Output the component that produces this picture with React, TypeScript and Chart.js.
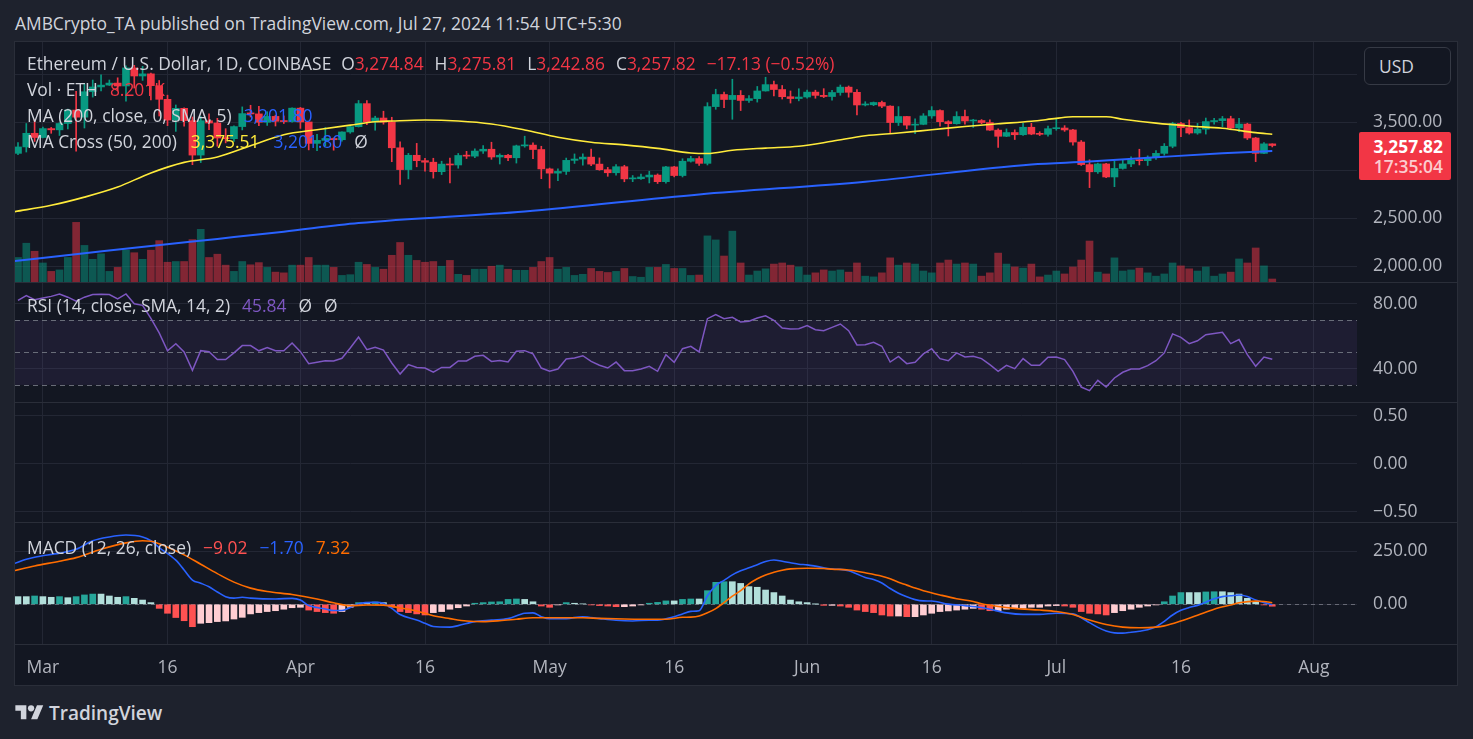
import React, { useEffect, useRef } from "react";
import { Chart, registerables } from "chart.js";

Chart.register(...registerables);

// ---------------- data (day 0 = Mar 1 2024, first candle = Feb 27) ----------------
const FIRST_DAY = -3;
const TICK_DAYS = [0, 15, 31, 46, 61, 76, 92, 107, 122, 137, 153];
const TICK_LABELS = ["Mar", "16", "Apr", "16", "May", "16", "Jun", "16", "Jul", "16", "Aug"];
const PRICE_TICKS = [2000, 2500, 3000, 3500, 4000];
const RSI_TICKS = [40, 80];
const RSI_LEVELS = [70, 50, 30];
const BLANK_TICKS = [-0.5, 0, 0.5];
const MACD_TICKS = [0, 250];

const OPEN = [
  3176, 3243, 3385,
  3341, 3434, 3421, 3487, 3627, 3553, 3818, 3868, 3887, 3908, 3878, 4066, 3982, 4004, 3881, 3739, 3523, 3645, 3517, 3158, 3516, 3492, 3336, 3329, 3455, 3590, 3587, 3500, 3561, 3510, 3507,
  3647, 3503, 3280, 3311, 3331, 3318, 3399, 3454, 3694, 3505, 3544, 3502, 3234, 3007, 3156, 3100, 3084, 2985, 3064, 3055, 3154, 3147, 3200, 3219, 3138, 3156, 3130, 3254, 3262, 3216,
  3014, 2970, 2988, 3103, 3117, 3137, 3064, 3006, 2974, 3037, 2910, 2912, 2930, 2950, 2881, 3035, 2945, 3094, 3122, 3072, 3663, 3789, 3737, 3780, 3727, 3746, 3826, 3892, 3841, 3766, 3747,
  3763, 3814, 3780, 3768, 3810, 3866, 3812, 3680, 3682, 3706, 3668, 3497, 3560, 3470, 3478, 3566, 3622, 3506, 3485, 3560, 3513, 3518, 3497, 3418, 3354, 3393, 3370, 3448, 3377, 3374,
  3433, 3440, 3420, 3294, 3059, 2984, 3066, 2930, 3019, 3066, 3103, 3100, 3135, 3176, 3250, 3487, 3444, 3388, 3428, 3507, 3517, 3537, 3441, 3481, 3336, 3176, 3274.84,
];
const HIGH = [
  3289, 3487, 3523,
  3451, 3446, 3496, 3637, 3823, 3900, 3940, 3995, 3940, 3963, 4087, 4093, 4083, 4013, 3935, 3782, 3680, 3650, 3555, 3560, 3587, 3541, 3433, 3464, 3660, 3677, 3667, 3610, 3574, 3566, 3650,
  3655, 3505, 3373, 3445, 3337, 3400, 3460, 3727, 3725, 3563, 3615, 3552, 3295, 3176, 3280, 3125, 3125, 3094, 3128, 3175, 3197, 3224, 3256, 3292, 3171, 3166, 3262, 3355, 3285, 3250,
  3023, 3015, 3127, 3170, 3171, 3220, 3129, 3030, 3058, 3052, 2945, 2960, 2990, 2962, 3041, 3041, 3120, 3145, 3143, 3704, 3844, 3815, 3948, 3830, 3777, 3873, 3969, 3929, 3883, 3826, 3849,
  3836, 3834, 3850, 3832, 3888, 3878, 3840, 3714, 3711, 3720, 3672, 3663, 3562, 3535, 3590, 3663, 3629, 3516, 3610, 3628, 3531, 3528, 3526, 3431, 3431, 3421, 3489, 3489, 3401, 3461,
  3531, 3465, 3427, 3310, 3109, 3074, 3073, 3097, 3110, 3140, 3219, 3150, 3205, 3278, 3500, 3498, 3524, 3488, 3544, 3540, 3561, 3563, 3540, 3490, 3342, 3287, 3275.81,
];
const LOW = [
  3162, 3190, 3300,
  3338, 3385, 3362, 3430, 3200, 3440, 3762, 3827, 3883, 3829, 3720, 3856, 3936, 3733, 3565, 3465, 3405, 3459, 3058, 3080, 3422, 3250, 3285, 3300, 3420, 3555, 3464, 3467, 3461, 3487, 3500,
  3436, 3212, 3203, 3253, 3209, 3302, 3385, 3450, 3475, 3417, 3480, 3089, 2852, 2910, 3036, 2990, 2918, 2955, 2868, 3021, 3122, 3130, 3175, 3114, 3065, 3101, 3075, 3240, 3120, 2912,
  2815, 2892, 2956, 3071, 3052, 3047, 3000, 2937, 2950, 2880, 2881, 2905, 2868, 2862, 2865, 2931, 2930, 3085, 3051, 3055, 3635, 3653, 3531, 3622, 3707, 3710, 3824, 3775, 3742, 3700, 3723,
  3750, 3750, 3757, 3730, 3781, 3761, 3576, 3670, 3673, 3653, 3392, 3466, 3431, 3380, 3474, 3541, 3460, 3357, 3480, 3480, 3446, 3485, 3414, 3239, 3350, 3320, 3363, 3370, 3361, 3356,
  3417, 3405, 3262, 3050, 2819, 2968, 2922, 2829, 3011, 3037, 3055, 3050, 3112, 3156, 3234, 3350, 3376, 3375, 3377, 3480, 3455, 3422, 3402, 3320, 3090, 3172, 3242.86,
];
const CLOSE = [
  3243, 3385, 3341,
  3434, 3421, 3487, 3627, 3553, 3818, 3868, 3887, 3908, 3878, 4066, 3982, 4004, 3881, 3739, 3523, 3645, 3517, 3158, 3516, 3492, 3336, 3329, 3455, 3590, 3587, 3500, 3561, 3510, 3507, 3647,
  3503, 3280, 3311, 3331, 3318, 3399, 3454, 3694, 3505, 3544, 3502, 3234, 3007, 3156, 3100, 3084, 2985, 3064, 3055, 3154, 3147, 3200, 3219, 3138, 3156, 3130, 3254, 3262, 3216, 3014,
  2970, 2988, 3103, 3117, 3137, 3064, 3006, 2974, 3037, 2910, 2912, 2930, 2950, 2881, 3035, 2945, 3094, 3122, 3072, 3663, 3789, 3737, 3780, 3727, 3746, 3826, 3892, 3841, 3766, 3747, 3763,
  3814, 3780, 3768, 3810, 3866, 3812, 3680, 3682, 3706, 3668, 3497, 3560, 3470, 3478, 3566, 3622, 3506, 3485, 3560, 3513, 3518, 3497, 3418, 3354, 3393, 3370, 3448, 3377, 3374, 3433,
  3440, 3420, 3294, 3059, 2984, 3066, 2930, 3019, 3066, 3103, 3100, 3135, 3176, 3250, 3487, 3444, 3388, 3428, 3507, 3517, 3537, 3441, 3481, 3336, 3176, 3274.95, 3257.82,
];
// volume in thousands of ETH
const VOLUME_K = [
  67, 106, 84,
  52, 29, 33, 67, 163, 100, 62, 77, 29, 40, 87, 80, 62, 87, 113, 54, 56, 56, 116, 144, 67, 76, 46, 29, 56, 47, 53, 40, 27, 25, 46,
  46, 67, 46, 46, 40, 18, 20, 54, 48, 40, 35, 73, 108, 73, 59, 54, 56, 43, 59, 21, 18, 35, 35, 43, 46, 35, 32, 32, 40, 56,
  67, 35, 40, 18, 21, 37, 29, 26, 29, 37, 15, 13, 40, 40, 48, 37, 37, 18, 19, 126, 115, 71, 139, 52, 19, 30, 36, 49, 52, 46, 41,
  19, 25, 33, 30, 33, 27, 52, 16, 14, 25, 66, 46, 52, 49, 30, 25, 52, 60, 49, 52, 49, 16, 25, 79, 49, 41, 38, 49, 14, 19,
  30, 22, 41, 60, 112, 27, 22, 66, 30, 33, 38, 25, 16, 22, 52, 44, 36, 30, 41, 16, 22, 27, 63, 52, 93, 44, 8.2,
];
// [day, value]
const MA50 = [
  [-3.4, 2569], [1, 2635], [5, 2720], [9, 2825], [13, 2972], [17, 3082], [21, 3138], [25, 3255], [29, 3370], [33, 3422],
  [37, 3470], [40, 3505], [42, 3513], [46, 3524], [50, 3513], [54, 3482], [58, 3420], [62, 3344], [66, 3292], [70, 3264],
  [74, 3228], [78, 3180], [80, 3174], [83, 3208], [87, 3231], [91, 3250], [95, 3302], [99, 3360], [103, 3388], [107, 3422],
  [111, 3456], [115, 3484], [119, 3510], [122, 3540], [124, 3557], [128, 3557], [130, 3532], [134, 3491], [138, 3461],
  [142, 3437], [146, 3392], [148, 3375.51],
];
const MA200 = [
  [-3.4, 2055], [5, 2135], [13, 2211], [21, 2285], [29, 2360], [38, 2450], [58, 2570], [79, 2748], [99, 2881],
  [119, 3060], [126, 3090], [134, 3135], [142, 3177], [148, 3201.8],
];
const RSI = [
  82, 85, 82.5,
  83.5, 84.5, 86, 84, 81.5, 84, 85.6, 85.8, 85.6, 83,
  86, 80, 79, 71, 62, 51, 55.4, 50.3, 39, 51.1,
  50.5, 45.6, 45.6, 49.7, 54.2, 54.2, 51, 53, 51, 51,
  55.8, 50.5, 43.1, 44, 44.9, 44.7, 46.4, 52.7, 59.5, 51.7,
  53.2, 51.5, 43.5, 36.7, 42.5, 40.8, 40.4, 37.8, 40.8, 40.8,
  44.8, 44.8, 47.6, 48.2, 44.5, 45.1, 44.1, 50.7, 51.1, 49.1,
  40.4, 38.4, 39.8, 46, 46.6, 48, 44.5, 42.1, 40.4, 44.1,
  38.8, 38.8, 39.8, 41.5, 38.4, 48.6, 43.9, 52.3, 53.8, 50.3,
  70.8, 73.3, 70.8, 71.6, 68.7, 69.2, 71.2, 72.6, 69.8, 65,
  64.4, 64.6, 66.5, 64, 63.4, 65.4, 67.5, 63.4, 54.6, 54.8,
  56.2, 53.8, 44.1, 47.6, 43.1, 43.9, 49.1, 52.3, 46.2, 44.9,
  49.7, 47.2, 47.6, 46.2, 42.5, 38.4, 42.1, 40, 46.2, 42.1,
  42.1, 47, 47.2, 45.6, 38.4, 28.7, 26.5, 32.8, 28.7, 34.3,
  37.8, 39.8, 39.8, 41.9, 44.9, 49.7, 61.4, 59.3, 55.4, 57.2,
  60.9, 61.6, 62.4, 55.4, 57.9, 48.6, 41.5, 47.2, 45.84,
];
const MACD_HIST = [
  36, 36, 39,
  36, 33, 36, 31, 36, 44, 48, 48, 39, 33,
  36, 28, 20, 8, -19, -42, -62, -77, -105, -89,
  -86, -81, -78, -69, -61, -45, -39, -34, -30, -23,
  -16, -14, -27, -34, -39, -42, -34, -14, 8, 8,
  11, 8, -14, -34, -39, -45, -50, -39, -34, -23,
  -16, -8, 5, 8, 11, 12, 23, 25, 23, 12,
  -8, -14, -3, 8, 5, 2, -3, -6, -8, -11,
  -11, -8, -3, 5, 9, 16, 16, 23, 25, 25,
  64, 103, 106, 106, 98, 83, 80, 67, 55, 39,
  20, 12, 8, 1, -5, -5, -8, -14, -27, -34,
  -39, -50, -55, -55, -58, -58, -50, -42, -34, -31,
  -27, -23, -19, -23, -30, -30, -23, -20, -19, -14,
  -14, -8, -6, -8, -14, -34, -42, -45, -50, -39,
  -30, -23, -14, -8, -3, 12, 39, 55, 55, 55,
  58, 59, 59, 55, 48, 28, 12, -3, -9.02,
];
const MACD_LINE = [
  [-3.4, 192], [-2, 211], [-1, 221], [2, 240], [4, 258], [6, 298], [8, 316], [10, 325], [12, 316], [13, 298],
  [14, 266], [16, 207], [17, 161], [18, 114], [19, 99], [20, 82], [21, 58], [22, 36], [23, 29], [24, 33],
  [25, 29], [28, 25], [30, 28], [31, 20], [32, -6], [33, -15], [34, -22], [35, -29], [36, -29], [37, -15],
  [38, 3], [40, 9], [41, 4.5], [42, -19], [43, -48], [45, -74], [46, -89], [47, -104], [49, -107], [50, -100],
  [52, -81], [54, -74], [56, -67], [58, -42], [59, -40], [60, -58], [61, -68], [63, -67], [65, -58], [67, -67],
  [69, -75], [71, -78], [73, -74], [74, -74], [76, -58], [77, -45], [78, -33], [79, -30], [80, 40], [81, 88],
  [82, 112], [83, 138], [84, 157], [85, 171], [86, 186], [87, 201], [88, 208], [89, 202], [90, 195], [91, 188],
  [92, 185], [93, 179], [95, 165], [96, 164], [97, 157], [98, 142], [99, 126], [100, 116], [101, 100], [102, 74],
  [103, 52], [104, 35], [105, 22], [106, 16], [107, 15.5], [109, 1], [111, -6], [113, -15], [114, -23], [116, -40],
  [118, -47], [120, -47], [122, -42], [124, -45], [125, -63], [126, -86], [127, -108], [128, -125], [129, -134], [130, -135],
  [131, -131], [132, -126], [133, -119], [134, -105], [135, -80], [136, -50], [137, -28], [138, -15], [139, -5], [140, 10],
  [141, 26], [142, 36], [143, 40], [144, 44], [145, 37], [146, 20], [147, 8], [148, -1.7],
];
const MACD_SIGNAL = [
  [-3.4, 158], [-1, 180], [2, 202], [4, 219], [7, 258], [10, 288], [12, 298], [13, 296], [15, 268], [17, 232],
  [19, 188], [21, 144], [23, 104], [25, 76], [27, 60], [30, 46], [33, 25], [35, 7], [37, -7], [39, -3],
  [41, -4], [43, -17], [45, -31], [47, -54], [49, -67], [51, -78], [53, -81], [55, -77], [57, -70], [59, -63],
  [62, -63], [65, -63], [67, -66], [70, -69], [72, -70], [75, -70], [77, -61], [78, -60], [79, -55], [80, -40],
  [81, -20], [82, 8], [83, 38], [84, 64], [85, 96], [86, 120], [87, 138], [88, 150], [89, 160], [90, 166],
  [92, 169], [94, 168], [95, 165], [97, 161], [99, 148], [101, 132], [102, 120], [103, 103], [104, 90], [105, 76],
  [106, 64], [108, 44], [110, 26], [112, 13], [113, 3], [115, -10], [117, -19], [120, -27], [122, -34], [124, -48],
  [126, -74], [128, -95], [130, -107], [132, -110], [134, -107], [135, -101], [137, -78], [139, -51], [141, -23], [143, -3],
  [144, 7], [146, 15], [147, 13], [148, 7.32],
];

// ---------------- style ----------------
const FONT = "'Open Sans', 'Noto Sans', Roboto, sans-serif";
const TEXT_SIZE = 17.4;
const AXIS_SIZE = 17.5;
const BG = "#131722";
const OUTER = "#1e222d";
const BORDER = "#2a2e39";
const GRID = "#232734";
const AXIS_TEXT = "#B2B5BE";
const TEXT = "#D1D4DC";
const UP = "#089981";
const DOWN = "#F23645";
const X_MIN = -3.36;
const X_MAX = 158.2;
const AXIS_W = 100;
const PANE_LEFT = 15;
const PANE_W = 1442;

const fmt2 = (v: number) =>
  v.toLocaleString("en-US", { minimumFractionDigits: 2, maximumFractionDigits: 2 }).replace("-", "\u2212");

function xScale(showLabels: boolean): any {
  return {
    type: "linear",
    min: X_MIN,
    max: X_MAX,
    offset: false,
    grid: { color: GRID, drawTicks: false, offset: false },
    border: { display: false },
    ticks: {
      display: showLabels,
      color: AXIS_TEXT,
      font: { family: FONT, size: AXIS_SIZE },
      padding: 14,
      maxRotation: 0,
      autoSkip: false,
      callback: (v: number) => TICK_LABELS[TICK_DAYS.indexOf(v)] ?? "",
    },
    afterBuildTicks: (s: any) => {
      s.ticks = TICK_DAYS.map((v) => ({ value: v }));
    },
    afterFit: (s: any) => {
      s.height = showLabels ? 41 : 0;
      s.paddingLeft = 0;
      s.paddingRight = 0;
    },
  };
}

function yScale(min: number, max: number, ticks: number[]): any {
  return {
    position: "right",
    min,
    max,
    grid: { color: GRID, drawTicks: false },
    border: { display: false },
    ticks: {
      color: AXIS_TEXT,
      font: { family: FONT, size: AXIS_SIZE },
      padding: 16,
      autoSkip: false,
      callback: (v: number) => fmt2(v),
    },
    afterBuildTicks: (s: any) => {
      s.ticks = ticks.map((v) => ({ value: v }));
    },
    afterFit: (s: any) => {
      s.width = AXIS_W;
      s.paddingTop = 0;
      s.paddingBottom = 0;
    },
  };
}

const common: any = {
  responsive: false,
  maintainAspectRatio: false,
  animation: false,
  events: [],
  layout: { padding: 0 },
  plugins: { legend: { display: false }, tooltip: { enabled: false } },
};

const rsiBandPlugin = {
  id: "rsiBand",
  beforeDatasetsDraw(chart: any) {
    const { ctx, chartArea: a, scales } = chart;
    const y = scales.y;
    const top = y.getPixelForValue(RSI_LEVELS[0]);
    const bot = y.getPixelForValue(RSI_LEVELS[2]);
    ctx.save();
    ctx.fillStyle = "rgba(126,87,194,0.1)";
    ctx.fillRect(a.left, top, a.right - a.left, bot - top);
    ctx.strokeStyle = "rgba(120,123,134,0.85)";
    ctx.lineWidth = 1;
    ctx.setLineDash([5, 4]);
    for (const lv of RSI_LEVELS) {
      const p = Math.round(y.getPixelForValue(lv)) + 0.5;
      ctx.beginPath();
      ctx.moveTo(a.left, p);
      ctx.lineTo(a.right, p);
      ctx.stroke();
    }
    ctx.restore();
  },
};

const zeroLinePlugin = {
  id: "zeroLine",
  beforeDatasetsDraw(chart: any) {
    const { ctx, chartArea: a, scales } = chart;
    const p = Math.round(scales.y.getPixelForValue(0)) + 0.5;
    ctx.save();
    ctx.strokeStyle = "rgba(120,123,134,0.8)";
    ctx.lineWidth = 1;
    ctx.setLineDash([4, 4]);
    ctx.beginPath();
    ctx.moveTo(a.left, p);
    ctx.lineTo(a.right, p);
    ctx.stroke();
    ctx.restore();
  },
};

export default function App() {
  const priceRef = useRef<HTMLCanvasElement>(null);
  const rsiRef = useRef<HTMLCanvasElement>(null);
  const blankRef = useRef<HTMLCanvasElement>(null);
  const macdRef = useRef<HTMLCanvasElement>(null);

  useEffect(() => {
    const days = CLOSE.map((_, i) => FIRST_DAY + i);
    const candleColor = CLOSE.map((c, i) => (c >= OPEN[i] ? UP : DOWN));
    const volColor = CLOSE.map((c, i) => (c >= OPEN[i] ? "rgba(8,153,129,0.5)" : "rgba(242,54,69,0.5)"));
    const histColor = MACD_HIST.map((v, i) => {
      const prev = i > 0 ? MACD_HIST[i - 1] : v;
      return v >= 0 ? (v > prev ? "#26A69A" : "#B2DFDB") : v < prev ? "#FF5252" : "#FFCDD2";
    });
    const pts = (arr: number[][]) => arr.map(([x, y]) => ({ x, y }));

    const charts: Chart[] = [];

    charts.push(
      new Chart(priceRef.current as HTMLCanvasElement, {
        type: "bar",
        data: {
          datasets: [
            {
              type: "line",
              data: pts(MA50),
              borderColor: "#FFEB3B",
              borderWidth: 1.6,
              pointRadius: 0,
              cubicInterpolationMode: "monotone",
              yAxisID: "y",
              order: 1,
            } as any,
            {
              type: "line",
              data: pts(MA200),
              borderColor: "#2962FF",
              borderWidth: 2,
              pointRadius: 0,
              cubicInterpolationMode: "monotone",
              yAxisID: "y",
              order: 2,
            } as any,
            {
              type: "bar",
              data: days.map((x, i) => ({ x, y: [OPEN[i], CLOSE[i]] })),
              backgroundColor: candleColor,
              barThickness: 7,
              maxBarThickness: 7,
              minBarLength: 1,
              grouped: false,
              yAxisID: "y",
              order: 3,
            } as any,
            {
              type: "bar",
              data: days.map((x, i) => ({ x, y: [LOW[i], HIGH[i]] })),
              backgroundColor: candleColor,
              barThickness: 1,
              maxBarThickness: 1,
              grouped: false,
              yAxisID: "y",
              order: 4,
            } as any,
            {
              type: "bar",
              data: days.map((x, i) => ({ x, y: VOLUME_K[i] })),
              backgroundColor: volColor,
              barThickness: 7,
              maxBarThickness: 7,
              grouped: false,
              yAxisID: "yv",
              order: 5,
            } as any,
          ],
        },
        options: {
          ...common,
          scales: {
            x: xScale(false),
            y: yScale(1836, 4336, PRICE_TICKS),
            yv: { display: false, min: 0, max: 656 },
          },
        },
      })
    );

    charts.push(
      new Chart(rsiRef.current as HTMLCanvasElement, {
        type: "line",
        data: {
          datasets: [
            {
              data: days.map((x, i) => ({ x, y: RSI[i] })),
              borderColor: "#7E57C2",
              borderWidth: 1.5,
              pointRadius: 0,
              tension: 0,
            },
          ],
        },
        options: {
          ...common,
          scales: { x: xScale(false), y: yScale(19.5, 92.74, RSI_TICKS) },
        },
        plugins: [rsiBandPlugin],
      } as any)
    );

    charts.push(
      new Chart(blankRef.current as HTMLCanvasElement, {
        type: "line",
        data: { datasets: [{ data: [] }] },
        options: {
          ...common,
          scales: { x: xScale(false), y: yScale(-0.607, 0.632, BLANK_TICKS) },
        },
      } as any)
    );

    charts.push(
      new Chart(macdRef.current as HTMLCanvasElement, {
        type: "bar",
        data: {
          datasets: [
            {
              type: "line",
              data: pts(MACD_SIGNAL),
              borderColor: "#FF6D00",
              borderWidth: 1.6,
              pointRadius: 0,
              cubicInterpolationMode: "monotone",
              order: 1,
            } as any,
            {
              type: "line",
              data: pts(MACD_LINE),
              borderColor: "#2962FF",
              borderWidth: 1.6,
              pointRadius: 0,
              cubicInterpolationMode: "monotone",
              order: 2,
            } as any,
            {
              type: "bar",
              data: days.map((x, i) => ({ x, y: MACD_HIST[i] })),
              backgroundColor: histColor,
              barThickness: 6,
              maxBarThickness: 6,
              grouped: false,
              order: 3,
            } as any,
          ],
        },
        options: {
          ...common,
          scales: { x: xScale(true), y: yScale(-186.1, 381.3, MACD_TICKS) },
        },
        plugins: [zeroLinePlugin],
      } as any)
    );

    return () => charts.forEach((c) => c.destroy());
  }, []);

  const abs: React.CSSProperties = { position: "absolute" };
  const legend: React.CSSProperties = {
    position: "absolute",
    left: 27,
    height: 20,
    lineHeight: "20px",
    fontSize: TEXT_SIZE,
    color: TEXT,
    whiteSpace: "nowrap",
  };
  const gap = (c?: string): React.CSSProperties => ({ marginLeft: 12, color: c });

  return (
    <div
      style={{
        position: "fixed",
        left: 0,
        top: 0,
        width: 1473,
        height: 739,
        background: OUTER,
        overflow: "hidden",
        fontFamily: FONT,
      }}
    >
      <div style={{ ...abs, left: 15, top: 12, fontSize: TEXT_SIZE, lineHeight: "22px", color: TEXT, whiteSpace: "nowrap" }}>
        AMBCrypto_TA published on TradingView.com, Jul 27, 2024 11:54 UTC+5:30
      </div>

      <div
        style={{
          ...abs,
          left: 14,
          top: 41,
          width: 1444,
          height: 645,
          boxSizing: "border-box",
          border: `1px solid ${BORDER}`,
          background: BG,
        }}
      />

      <canvas ref={priceRef} width={PANE_W} height={240} style={{ ...abs, left: PANE_LEFT, top: 42 }} />
      <canvas ref={rsiRef} width={PANE_W} height={119} style={{ ...abs, left: PANE_LEFT, top: 283 }} />
      <canvas ref={blankRef} width={PANE_W} height={119} style={{ ...abs, left: PANE_LEFT, top: 403 }} />
      <canvas ref={macdRef} width={PANE_W} height={162} style={{ ...abs, left: PANE_LEFT, top: 523 }} />

      {[282, 402, 522, 644].map((y) => (
        <div key={y} style={{ ...abs, left: PANE_LEFT, top: y, width: PANE_W, height: 1, background: BORDER }} />
      ))}

      {/* main pane legend */}
      <div style={{ ...legend, top: 53 }}>
        <span>Ethereum / U.S. Dollar, 1D, COINBASE</span>
        <span style={{ marginLeft: 10 }}>
          O<span style={{ color: DOWN }}>3,274.84</span>
        </span>
        <span style={{ marginLeft: 11 }}>
          H<span style={{ color: DOWN }}>3,275.81</span>
        </span>
        <span style={{ marginLeft: 11 }}>
          L<span style={{ color: DOWN }}>3,242.86</span>
        </span>
        <span style={{ marginLeft: 11 }}>
          C<span style={{ color: DOWN }}>3,257.82</span>
        </span>
        <span style={{ marginLeft: 11, color: DOWN }}>{"\u221217.13 (\u22120.52%)"}</span>
      </div>
      <div style={{ ...legend, top: 79 }}>
        <span>{"Vol \u00B7 ETH"}</span>
        <span style={gap(DOWN)}>8.201K</span>
      </div>
      <div style={{ ...legend, top: 105 }}>
        <span>MA (200, close, 0, SMA, 5)</span>
        <span style={gap("#2962FF")}>3,201.80</span>
      </div>
      <div style={{ ...legend, top: 131 }}>
        <span>MA Cross (50, 200)</span>
        <span style={{ ...gap("#FFEB3B"), marginLeft: 14 }}>3,375.51</span>
        <span style={{ ...gap("#2962FF"), marginLeft: 14 }}>3,201.80</span>
        <span style={gap(TEXT)}>{"\u00D8"}</span>
      </div>

      {/* RSI legend */}
      <div style={{ ...legend, top: 295 }}>
        <span>RSI (14, close, SMA, 14, 2)</span>
        <span style={gap("#7E57C2")}>45.84</span>
        <span style={gap(TEXT)}>{"\u00D8"}</span>
        <span style={gap(TEXT)}>{"\u00D8"}</span>
      </div>

      {/* MACD legend */}
      <div style={{ ...legend, top: 537 }}>
        <span>MACD (12, 26, close)</span>
        <span style={gap("#FF5252")}>{"\u22129.02"}</span>
        <span style={gap("#2962FF")}>{"\u22121.70"}</span>
        <span style={gap("#FF6D00")}>7.32</span>
      </div>

      {/* currency button */}
      <div
        style={{
          ...abs,
          left: 1364,
          top: 47,
          width: 87,
          height: 38,
          boxSizing: "border-box",
          border: "1px solid #363A45",
          borderRadius: 6,
          background: BG,
          color: TEXT,
          fontSize: TEXT_SIZE,
          lineHeight: "36px",
          paddingLeft: 14,
        }}
      >
        USD
      </div>

      {/* last price tag */}
      <div
        style={{
          ...abs,
          left: 1359,
          top: 132,
          width: 92,
          height: 48,
          background: DOWN,
          borderRadius: 2,
          fontSize: TEXT_SIZE,
        }}
      >
        <div style={{ ...abs, right: 8, top: 4, lineHeight: "20px", fontWeight: 700, color: "#FFFFFF" }}>3,257.82</div>
        <div style={{ ...abs, right: 8, top: 24, lineHeight: "20px", fontWeight: 600, color: "rgba(255,255,255,0.75)" }}>
          17:35:04
        </div>
      </div>

      {/* brand */}
      <svg style={{ ...abs, left: 15, top: 702 }} width={29} height={22} viewBox="0 0 36 28">
        <path d="M14 22H7V11H0V4h14v18zM28 22h-8l7.5-18h8L28 22z" fill={TEXT} />
        <circle cx="20" cy="8" r="4" fill={TEXT} />
      </svg>
      <div style={{ ...abs, left: 49, top: 701, fontSize: 19, lineHeight: "24px", fontWeight: 600, color: TEXT }}>
        TradingView
      </div>
    </div>
  );
}
